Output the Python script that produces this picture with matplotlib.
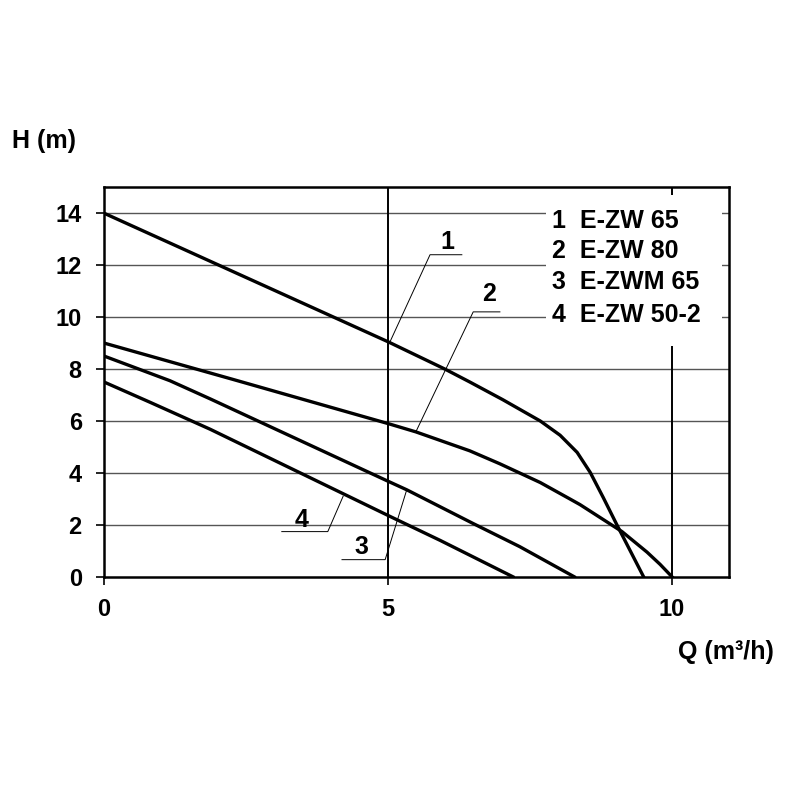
import matplotlib
matplotlib.use('Agg')
import matplotlib.pyplot as plt
from matplotlib.patches import Rectangle

plt.rcParams['font.family'] = ['Liberation Sans', 'DejaVu Sans']
plt.rcParams['font.weight'] = 'bold'

# pump curves, Q (m3/h) vs H (m)
q1 = [0, 5, 6, 6.44, 7.02, 7.68, 8.03, 8.33, 8.56, 8.79, 9.03, 9.5]
h1 = [14, 9.05, 8.0, 7.5, 6.82, 6.0, 5.45, 4.79, 4.02, 3.05, 2.0, 0]

q2 = [0, 2.27, 5.0, 5.49, 6.44, 6.97, 7.68, 8.2, 8.38, 9.12, 9.56, 9.79, 10]
h2 = [9.0, 7.6, 5.9, 5.58, 4.85, 4.35, 3.63, 3.0, 2.78, 1.74, 0.95, 0.48, 0]

q3 = [0, 1.16, 1.87, 5.0, 5.33, 6.5, 7.32, 8.28]
h3 = [8.5, 7.55, 6.85, 3.68, 3.35, 2.05, 1.16, 0]

q4 = [0, 0.81, 1.87, 5.04, 5.92, 7.2]
h4 = [7.5, 6.72, 5.68, 2.32, 1.4, 0]

names = ['1  E-ZW 65', '2  E-ZW 80', '3  E-ZWM 65', '4  E-ZW 50-2']
yticks = [0, 2, 4, 6, 8, 10, 12, 14]
xticks = [0, 5, 10]

fig = plt.figure(figsize=(8, 8), dpi=100)
ax = fig.add_axes([0.13, 0.279, 0.781, 0.487])

for y in yticks[1:]:
    ax.axhline(y, color='#555555', lw=1.0, zorder=1)
for x in [5, 10]:
    ax.axvline(x, color='black', lw=1.4, zorder=1)

# white box behind the names
ax.add_patch(Rectangle((7.78, 8.9), 3.1, 5.8, facecolor='white', edgecolor='none', zorder=2))
ty = [13.7, 12.55, 11.35, 10.08]
for name, y in zip(names, ty):
    ax.text(7.89, y, name, fontsize=18, fontweight='bold', va='center', ha='left', zorder=3)

for q, h in [(q1, h1), (q2, h2), (q3, h3), (q4, h4)]:
    ax.plot(q, h, color='black', lw=2.4, solid_joinstyle='round', zorder=4)

# leader lines with numbers
leaders = [
    ('1', [6.3, 5.74, 5.04], [12.4, 12.4, 9.07], (6.04, 12.9)),
    ('2', [6.97, 6.5, 5.49], [10.2, 10.2, 5.58], (6.78, 10.9)),
    ('3', [4.19, 4.95, 5.33], [0.66, 0.66, 3.35], (4.54, 1.15)),
    ('4', [3.13, 3.94, 4.21], [1.74, 1.74, 3.1], (3.47, 2.2)),
]
for lab, lx, ly, pos in leaders:
    ax.plot(lx, ly, color='black', lw=0.7, zorder=3)
    ax.text(pos[0], pos[1], lab, fontsize=18, fontweight='bold', ha='center', va='center', zorder=3)

ax.set_xlim(0, 11)
ax.set_ylim(0, 15)
ax.set_xticks(xticks)
ax.set_yticks(yticks)
ax.tick_params(direction='out', length=6, width=1.2, labelsize=17)
ax.tick_params(axis='x', pad=9)
ax.tick_params(axis='y', pad=10)
for lbl in ax.get_xticklabels() + ax.get_yticklabels():
    lbl.set_fontweight('bold')
for s in ax.spines.values():
    s.set_linewidth(1.8)

fig.text(0.015, 0.824, 'H (m)', fontsize=18, fontweight='bold', ha='left', va='center')
fig.text(0.9075, 0.185, 'Q (m³/h)', fontsize=18, fontweight='bold', ha='center', va='center')

fig.savefig('out.png', dpi=100, facecolor='white')
